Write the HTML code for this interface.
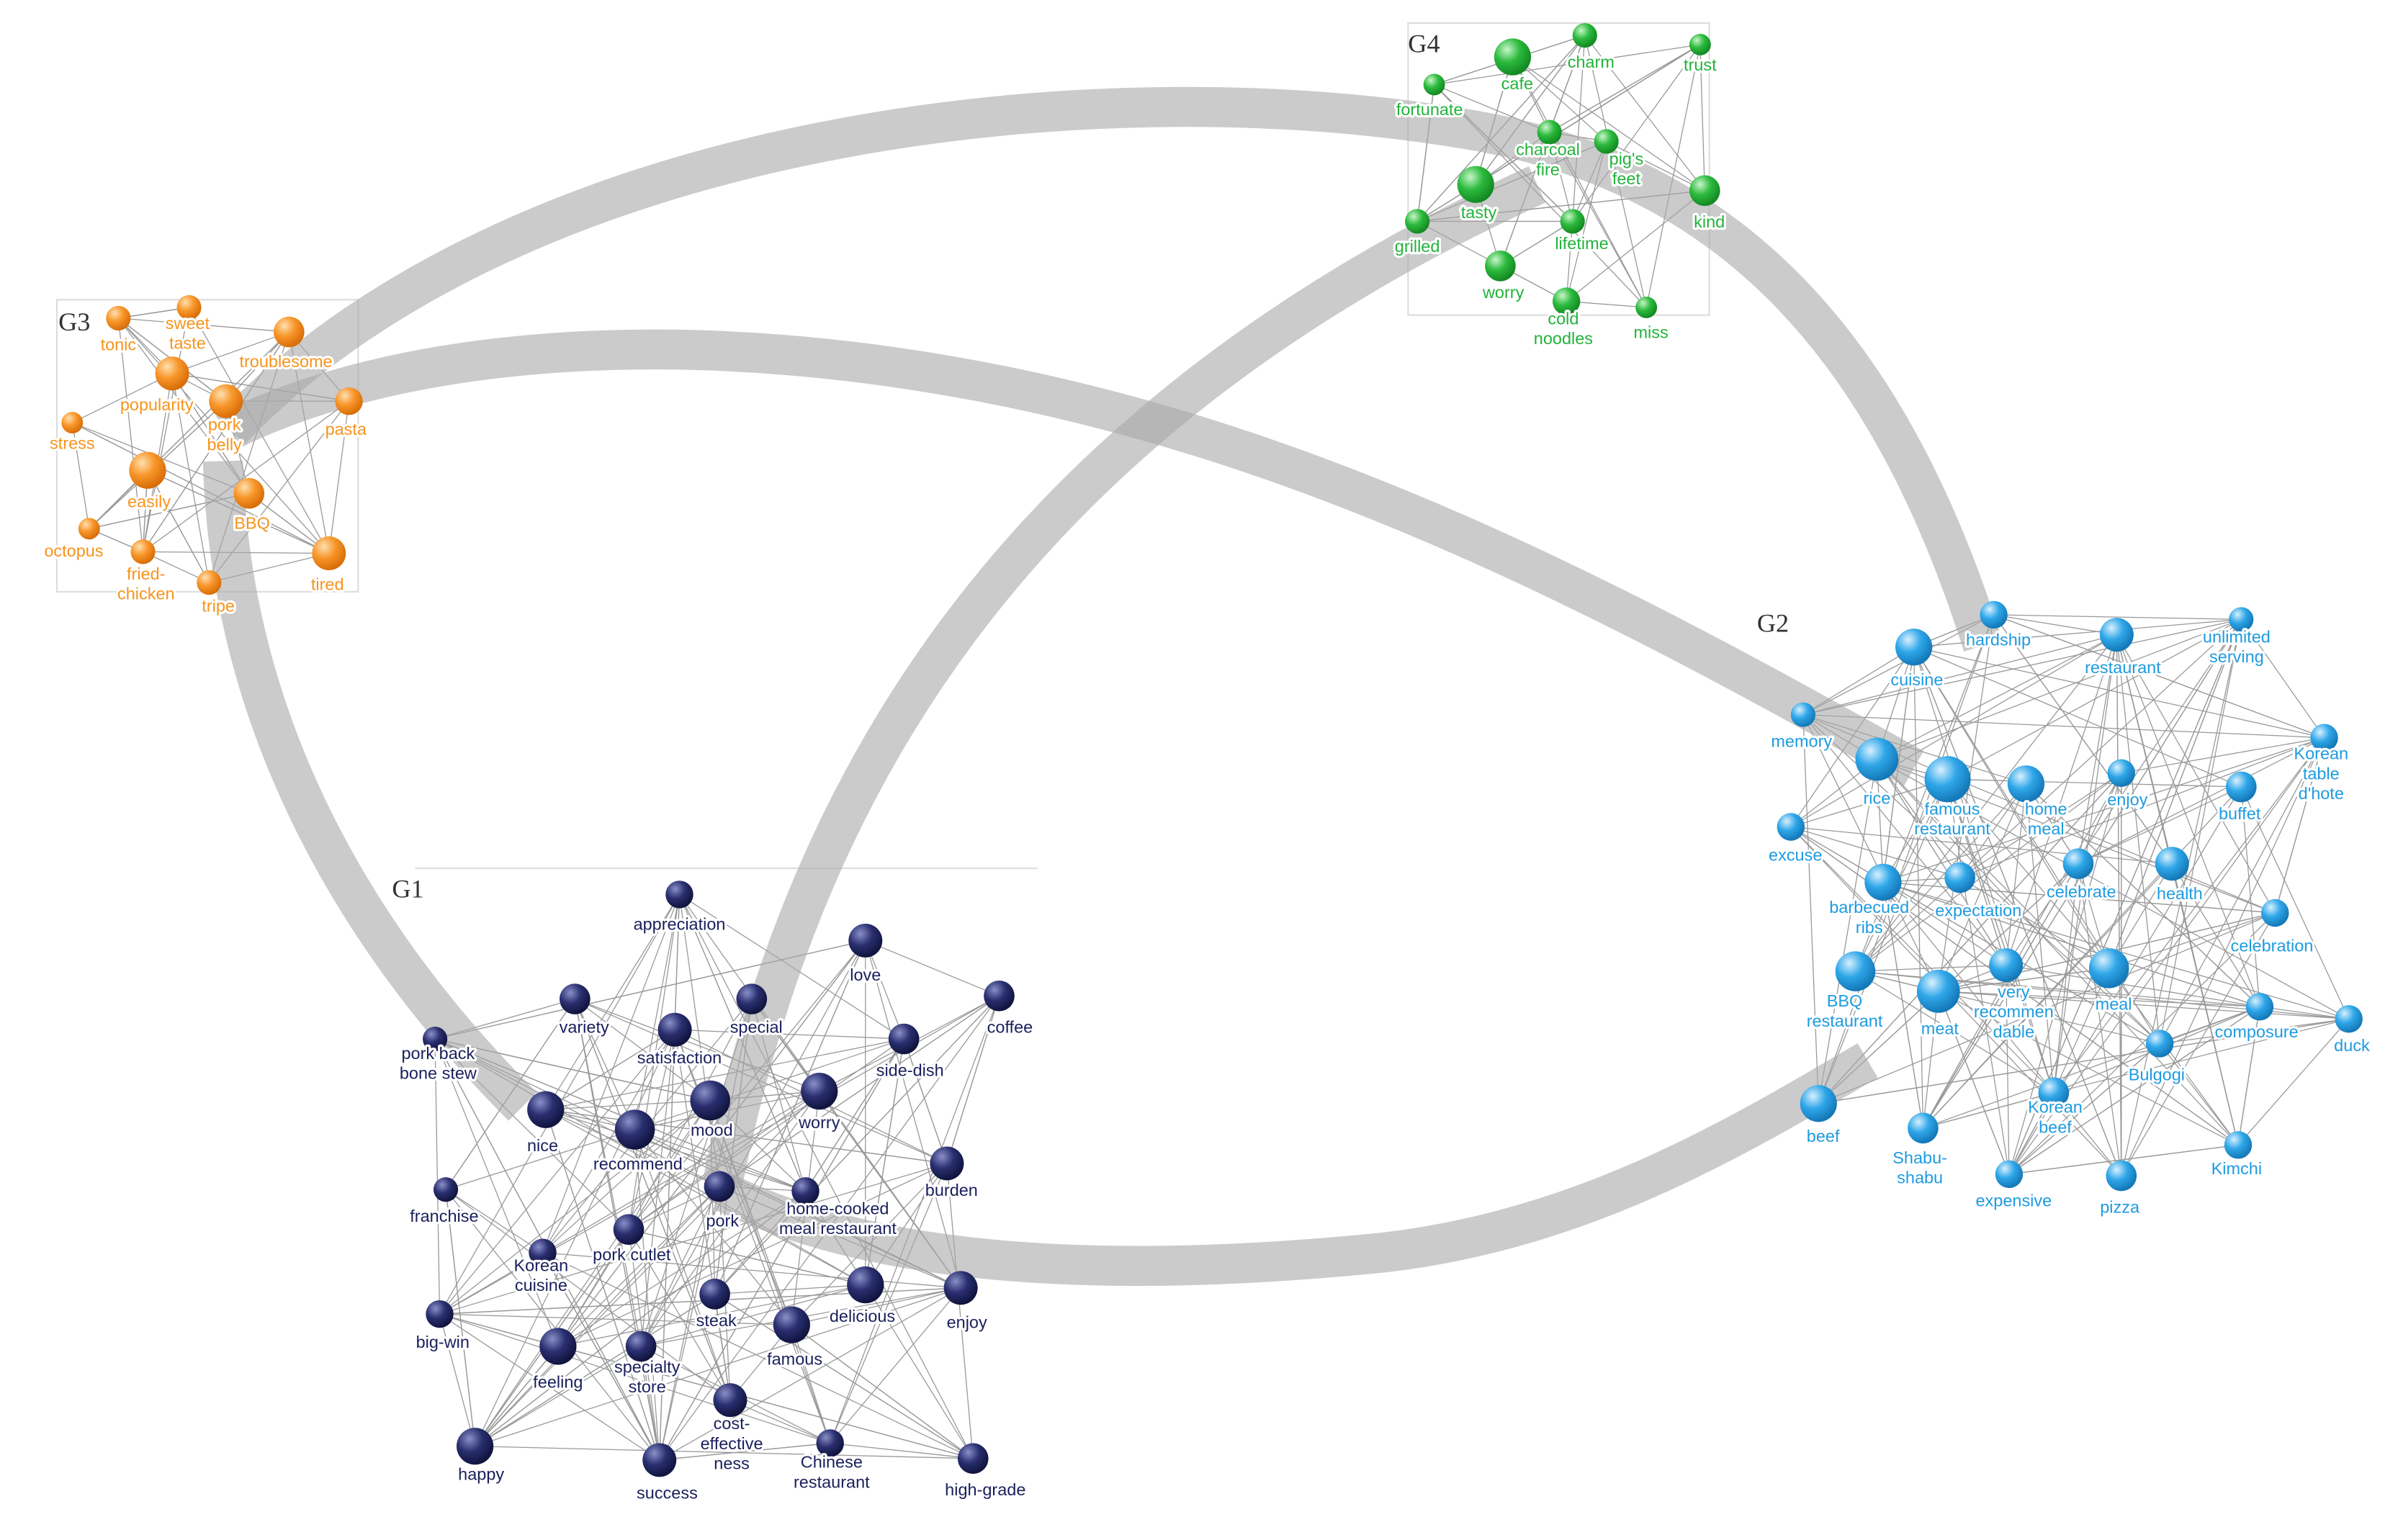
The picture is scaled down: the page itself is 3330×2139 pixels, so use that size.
<!DOCTYPE html>
<html><head><meta charset="utf-8">
<style>
html,body{margin:0;padding:0;background:#fff;}
svg{display:block;}
text{font-family:"Liberation Sans",sans-serif;font-size:11px;text-anchor:middle;paint-order:stroke;stroke:#fff;stroke-width:3px;stroke-linejoin:round;}
.g{font-family:"Liberation Serif",serif;font-size:17px;text-anchor:start;stroke:none;fill:#333;}
</style></head>
<body>
<svg id="s" width="3330" height="2139" viewBox="0 0 1560 1002" xmlns="http://www.w3.org/2000/svg">
<defs>
<radialGradient id="gr1" cx="35%" cy="30%" r="70%"><stop offset="0" stop-color="#8a90c8"/><stop offset="0.5" stop-color="#2a2f70"/><stop offset="1" stop-color="#10143e"/></radialGradient>
<radialGradient id="gr2" cx="35%" cy="30%" r="70%"><stop offset="0" stop-color="#d8f0ff"/><stop offset="0.5" stop-color="#2ea6e8"/><stop offset="1" stop-color="#1478b8"/></radialGradient>
<radialGradient id="gr3" cx="35%" cy="30%" r="70%"><stop offset="0" stop-color="#ffe0b0"/><stop offset="0.5" stop-color="#f8962a"/><stop offset="1" stop-color="#d86e08"/></radialGradient>
<radialGradient id="gr4" cx="35%" cy="30%" r="70%"><stop offset="0" stop-color="#c8f5c8"/><stop offset="0.5" stop-color="#2cba3e"/><stop offset="1" stop-color="#138a22"/></radialGradient>
</defs>
<rect x="37" y="195" width="196" height="190" fill="none" stroke="#ddd" stroke-width="1"/>
<rect x="916" y="15" width="196" height="190" fill="none" stroke="#ddd" stroke-width="1"/>
<line x1="270" y1="565" x2="675" y2="565" stroke="#ddd"/>
<g id="edges" stroke="#777" stroke-width="0.6" opacity="0.75"></g>
<g fill="none" stroke="#a8a8a8" stroke-opacity="0.6" stroke-width="26">
<path d="M150,280 C330,90 700,40 960,85 C1130,115 1230,230 1290,420"/>
<path d="M150,280 C250,230 420,210 620,245 C850,285 1050,390 1245,500"/>
<path d="M145,300 C150,480 240,620 340,720"/>
<path d="M470,770 C520,520 650,280 1000,120"/>
<path d="M470,775 C560,820 700,835 900,815 C1030,800 1130,740 1215,690"/>
</g>
<g id="nodes"></g>
<text class="g" x="255" y="584">G1</text>
<text class="g" x="1143" y="411">G2</text>
<text class="g" x="38" y="215">G3</text>
<text class="g" x="916" y="34">G4</text>
</svg>
<script>
var G={
1:{c:"#1a1f5c",n:[
[442,582,9,"appreciation",442,605],[563,612,11,"love",563,638],[650,648,10,"coffee",657,672],[489,650,10,"special",492,672],[374,650,10,"variety",380,672],[439,670,11,"satisfaction",442,692],[588,676,10,"side-dish",592,700],[283,676,8,"pork back|bone stew",285,689],[355,722,12,"nice",353,749],[413,735,13,"recommend",415,761],[462,716,13,"mood",463,739],[533,710,12,"worry",533,734],[616,757,11,"burden",619,778],[290,774,8,"franchise",289,795],[468,772,10,"pork",470,798],[524,775,9,"home-cooked|meal  restaurant",545,790],[409,800,10,"pork cutlet",411,820],[353,815,9,"Korean|cuisine",352,827],[563,836,12,"delicious",561,860],[625,838,11,"enjoy",629,864],[465,842,10,"steak",466,863],[286,855,9,"big-win",288,877],[363,876,12,"feeling",363,903],[515,862,12,"famous",517,888],[417,876,10,"specialty|store",421,893],[475,911,11,"cost-|effective|ness",476,930],[309,941,12,"happy",313,963],[429,950,11,"success",434,975],[540,939,9,"Chinese|restaurant",541,955],[633,949,10,"high-grade",641,973]]},
2:{c:"#1e9be0",n:[
[1297,400,9,"hardship",1300,420],[1458,403,8,"unlimited|serving",1455,418],[1245,421,12,"cuisine",1247,446],[1377,413,11,"restaurant",1381,438],[1173,465,8,"memory",1172,486],[1512,480,9,"Korean|table|d'hote",1510,494],[1221,494,14,"rice",1221,523],[1267,507,15,"famous|restaurant",1270,530],[1318,510,12,"home|meal",1331,530],[1380,503,9,"enjoy",1384,524],[1458,512,10,"buffet",1457,533],[1165,538,9,"excuse",1168,560],[1225,574,12,"barbecued|ribs",1216,594],[1275,571,10,"expectation",1287,596],[1352,562,10,"celebrate",1354,584],[1413,562,11,"health",1418,585],[1480,594,9,"celebration",1478,619],[1207,632,13,"BBQ|restaurant",1200,655],[1261,645,14,"meat",1262,673],[1305,628,11,"very|recommen|dable",1310,649],[1372,630,13,"meal",1375,657],[1470,655,9,"composure",1468,675],[1528,663,9,"duck",1530,684],[1405,679,9,"Bulgogi",1403,703],[1336,711,10,"Korean|beef",1337,724],[1183,718,12,"beef",1186,743],[1251,734,10,"Shabu-|shabu",1249,757],[1456,745,9,"Kimchi",1455,764],[1307,764,9,"expensive",1310,785],[1380,765,10,"pizza",1379,789]]},
3:{c:"#f7941d",n:[
[77,207,8,"tonic",77,228],[123,200,8,"sweet|taste",122,214],[188,216,10,"troublesome",186,239],[112,243,11,"popularity",102,267],[147,261,11,"pork|belly",146,280],[227,261,9,"pasta",225,283],[47,275,7,"stress",47,292],[96,306,12,"easily",97,330],[162,321,10,"BBQ",164,344],[58,344,7,"octopus",48,362],[93,359,8,"fried-|chicken",95,377],[214,360,11,"tired",213,384],[136,379,8,"tripe",142,398]]},
4:{c:"#22b33a",n:[
[984,37,12,"cafe",987,58],[1031,23,8,"charm",1035,44],[1106,29,7,"trust",1106,46],[933,55,7,"fortunate",930,75],[1008,86,8,"charcoal|fire",1007,101],[1045,92,8,"pig's|feet",1058,107],[960,120,12,"tasty",962,142],[922,144,8,"grilled",922,164],[1023,144,8,"lifetime",1029,162],[1109,124,10,"kind",1112,148],[976,173,10,"worry",978,194],[1019,196,9,"cold|noodles",1017,211],[1071,200,7,"miss",1074,220]]}
};
var NS="http://www.w3.org/2000/svg",E=document.getElementById("edges"),N=document.getElementById("nodes");
var seed=7;function rnd(){seed=(seed*16807)%2147483647;return seed/2147483647;}
function el(t,a,p){var e=document.createElementNS(NS,t);for(var k in a)e.setAttribute(k,a[k]);p.appendChild(e);return e;}
for(var g in G){var n=G[g].n,L=n.length,k=(g<3)?7:5;
 for(var i=0;i<L;i++)for(var j=0;j<k;j++){var m=Math.floor(rnd()*L);if(m==i)continue;
  el("line",{x1:n[i][0],y1:n[i][1],x2:n[m][0],y2:n[m][1]},E);}
 for(var i=0;i<L;i++){var d=n[i];el("circle",{cx:d[0],cy:d[1],r:d[2],fill:"url(#gr"+g+")"},N);}
 for(var i=0;i<L;i++){var d=n[i],parts=d[3].split("|");
  for(var p=0;p<parts.length;p++){var t=el("text",{x:d[4],y:d[5]+p*13,fill:G[g].c},N);t.textContent=parts[p];}}
}
</script>
</body></html>
